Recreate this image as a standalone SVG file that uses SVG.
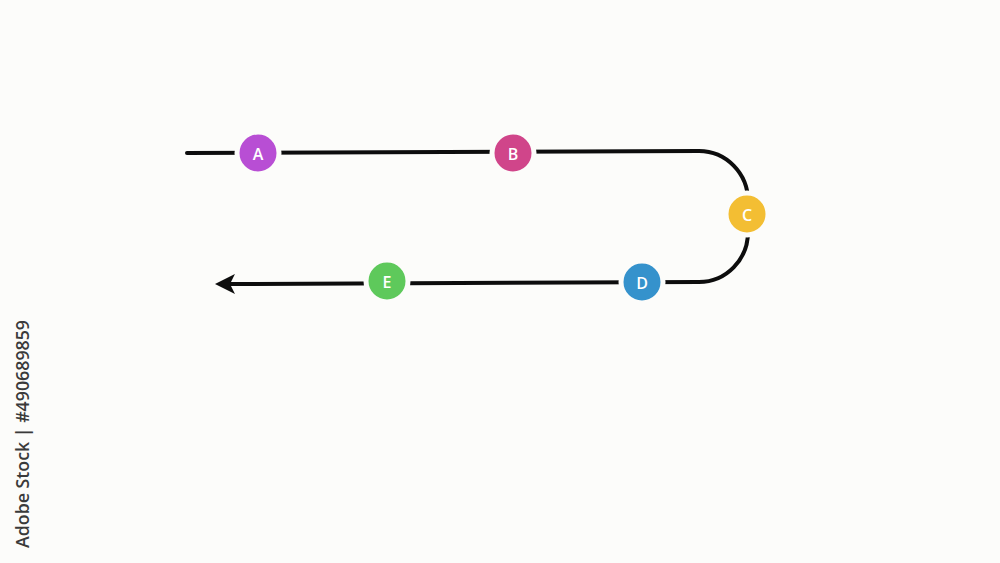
<svg xmlns="http://www.w3.org/2000/svg" width="1000" height="563" viewBox="0 0 1000 563">
<defs>
<style>
.node circle{stroke:#fcfcfa;stroke-width:5}
.node text{font-family:"Open Sans","Liberation Sans",sans-serif;font-size:16px;font-weight:600;fill:#ffffff;text-anchor:middle;dominant-baseline:central}
.edge{fill:none;stroke:#0d0d0d;stroke-width:4;stroke-linecap:round;stroke-linejoin:round}
</style>
<marker id="arr" viewBox="0 0 12 12" refX="3" refY="6" markerWidth="5" markerHeight="5" orient="auto" markerUnits="strokeWidth">
<path d="M12,6 L0,0 L3,6 L0,12 Z" fill="#0d0d0d"/>
</marker>
</defs>
<rect width="1000" height="563" fill="#fcfcfa"/>
<g id="connectors">
<path class="edge" d="M187,153 L699,151 A49,50 0 0 1 748,201 L748,232 A49,50 0 0 1 699,282 L230,284" marker-end="url(#arr)"/>
</g>
<g id="node-A" class="node"><circle cx="258" cy="153" r="21" fill="#b84ed4"/><text x="258" y="154">A</text></g>
<g id="node-B" class="node"><circle cx="513" cy="153" r="21" fill="#d0458a"/><text x="513" y="154">B</text></g>
<g id="node-C" class="node"><circle cx="747" cy="214" r="21" fill="#f3be33"/><text x="747" y="215">C</text></g>
<g id="node-D" class="node"><circle cx="642" cy="282" r="21" fill="#3592cc"/><text x="642" y="283">D</text></g>
<g id="node-E" class="node"><circle cx="387" cy="281" r="21" fill="#5ec95b"/><text x="387" y="282">E</text></g>
<text transform="translate(29,548) rotate(-90)" font-family="Open Sans, Liberation Sans, sans-serif" font-size="18" font-weight="600" fill="#3a3a3a" textLength="228" lengthAdjust="spacingAndGlyphs">Adobe Stock | #490689859</text>
</svg>
